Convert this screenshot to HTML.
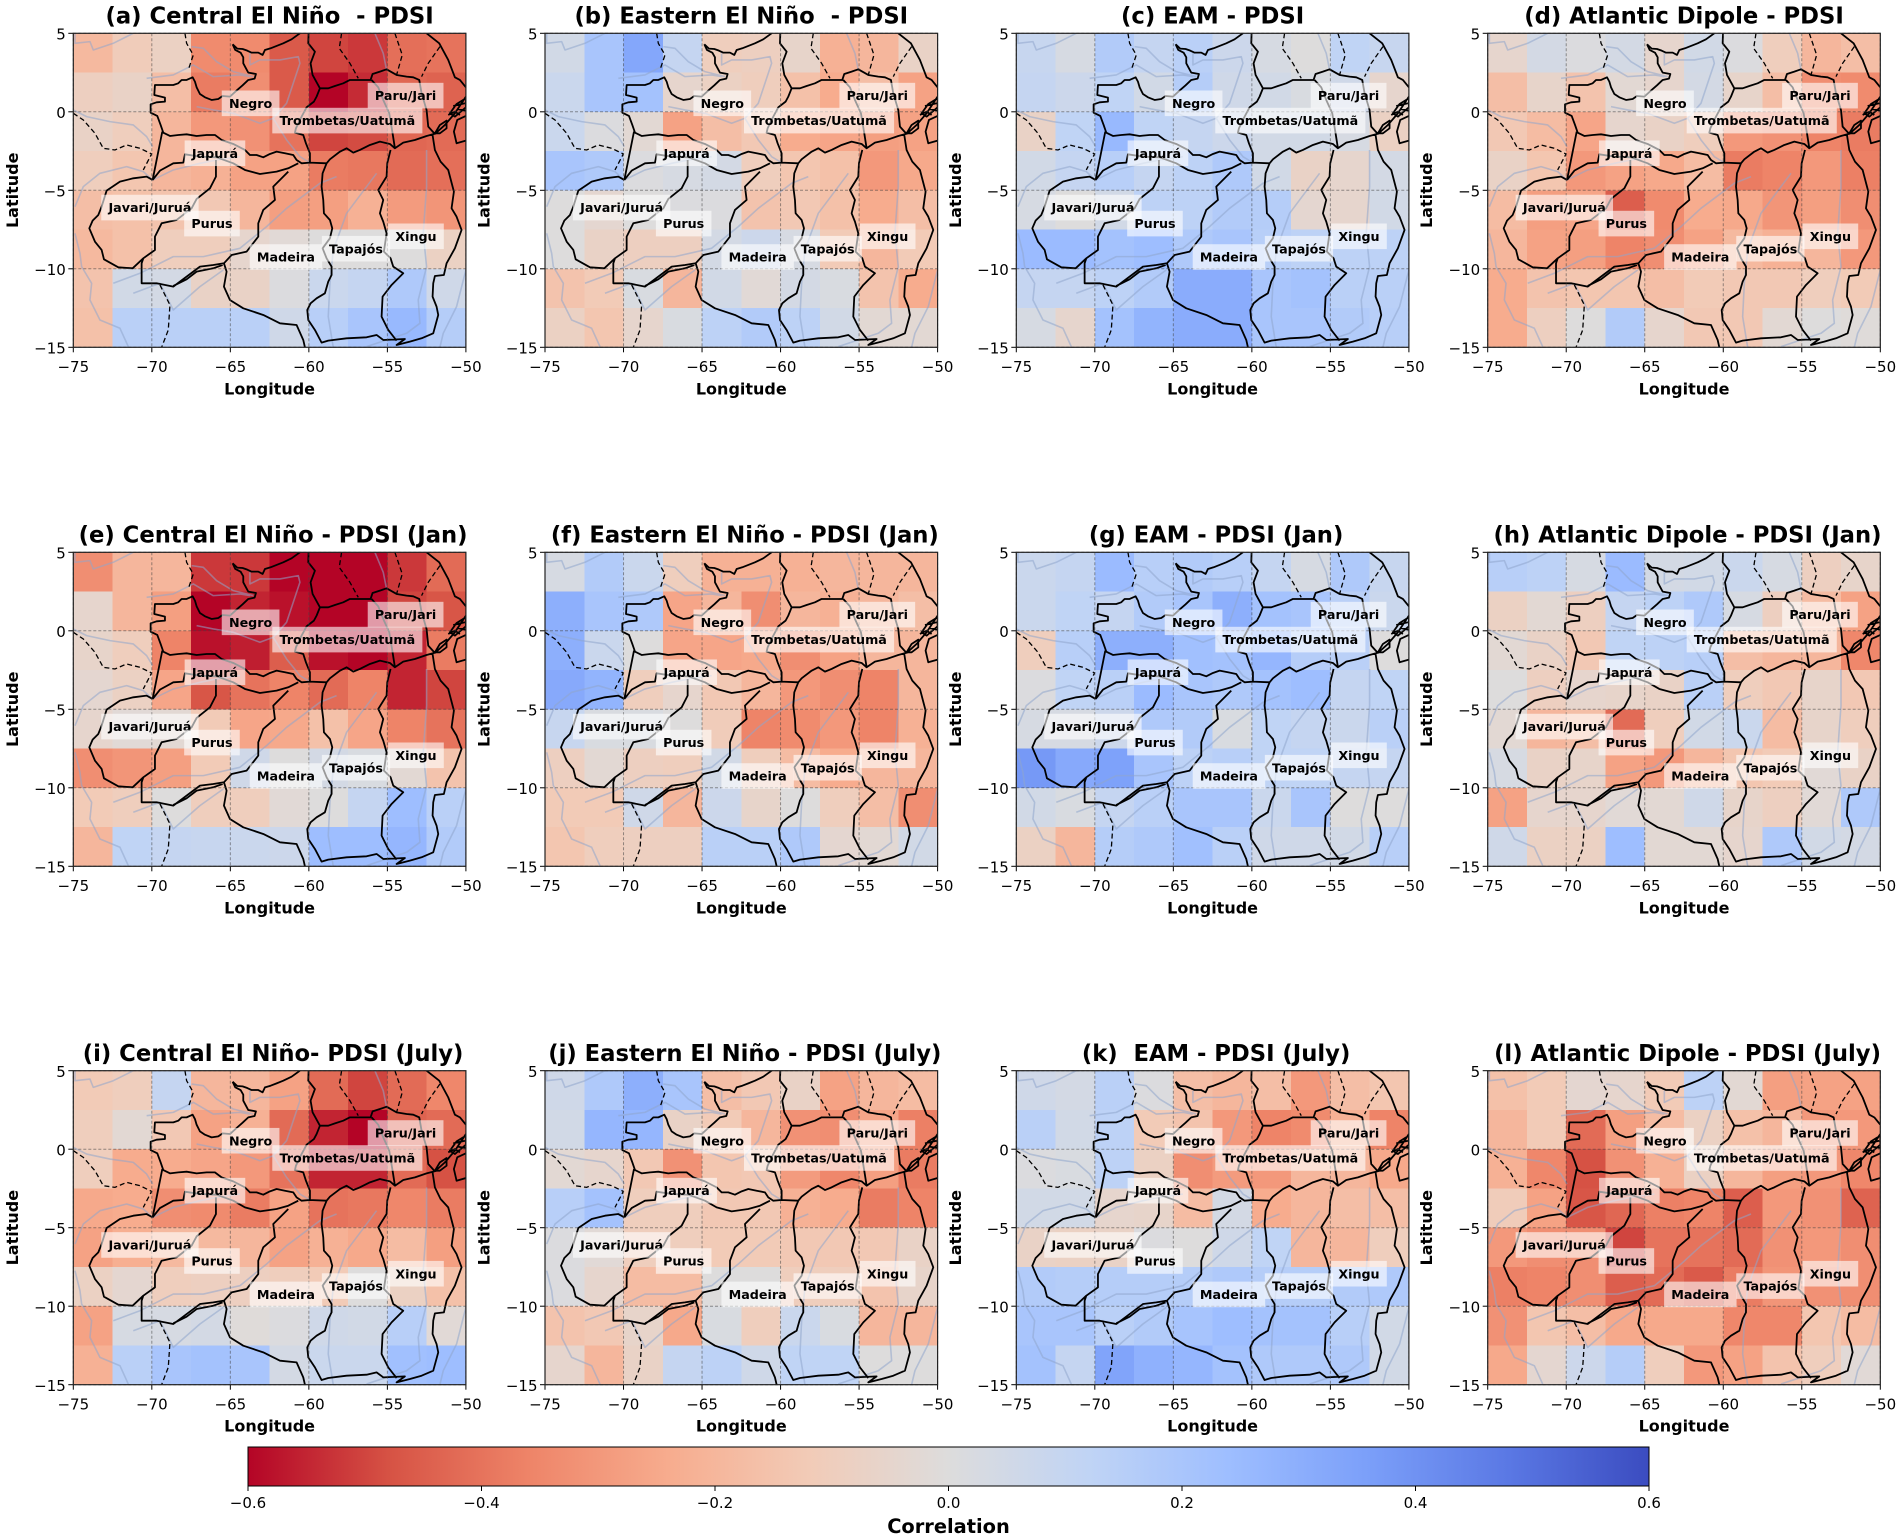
<!DOCTYPE html>
<html lang="en">
<head>
<meta charset="utf-8">
<title>PDSI correlation maps</title>
<style>
html,body{margin:0;padding:0;background:#fff;}
svg{display:block;}
text{font-family:"DejaVu Sans","Liberation Sans",sans-serif;fill:#000;white-space:pre;}
</style>
</head>
<body>
<svg id="figure" xmlns="http://www.w3.org/2000/svg" width="1902" height="1539" viewBox="0 0 1902 1539"></svg>
<script>
// Correlation grids: 8 latitude rows (5 to -15) by 10 longitude columns (-75 to -50)
const centralElNino = [
[-.19,-.11,-.08,-.34,-.34,-.46,-.50,-.52,-.41,-.40],
[-.09,-.07,-.17,-.38,-.33,-.46,-.60,-.54,-.43,-.44],
[-.07,-.10,-.20,-.30,-.32,-.40,-.50,-.49,-.43,-.42],
[-.10,-.14,-.20,-.22,-.27,-.27,-.38,-.39,-.42,-.41],
[-.17,-.16,-.15,-.13,-.20,-.28,-.28,-.22,-.29,-.31],
[-.19,-.16,-.10,-.10,-.05,-.02,0,0,0,-.08],
[-.15,.05,.04,-.07,-.07,.01,.08,.10,.18,.06],
[-.16,.14,.14,.14,.14,.06,.15,.20,.26,.16]];
const easternElNino = [
[.05,.20,.33,.10,-.10,-.09,-.06,-.22,-.20,-.07],
[.08,.20,.22,-.05,-.08,-.10,-.16,-.24,-.17,-.27],
[.08,.01,-.03,-.27,-.17,-.13,-.24,-.26,-.28,-.27],
[.20,.18,.01,.03,.04,-.10,-.14,-.16,-.30,-.25],
[0,-.04,0,.01,.01,-.15,-.13,-.16,-.24,-.17],
[0,-.07,-.09,-.09,.04,.07,.03,-.12,-.20,-.12],
[-.15,-.12,.02,-.20,.05,-.02,.04,.02,-.15,-.24],
[-.08,-.14,-.05,.02,.13,.17,.13,.05,-.03,-.03]];
const eam = [
[.09,.03,.17,.10,.14,.07,.03,0,.12,.09],
[.10,.07,.12,.05,.16,.06,.05,.02,.06,-.05],
[-.07,.12,.26,.12,.10,.07,.05,.05,.03,-.08],
[.05,.10,.15,.10,.13,.18,.05,-.07,-.05,.04],
[.03,0,.05,.13,.13,.17,.16,-.04,-.05,.05],
[.25,.25,.22,.24,.18,.20,.15,.13,.13,.13],
[.10,.10,.13,.17,.31,.31,.20,.22,.14,.14],
[.03,-.05,.22,.28,.31,.31,.20,.20,.17,.15]];
const atlanticDipole = [
[-.05,.04,.01,.04,-.05,.05,.01,-.10,-.20,-.17],
[-.17,-.06,-.15,-.03,-.05,.04,-.06,-.17,-.33,-.34],
[-.13,-.18,-.26,-.05,-.07,-.10,-.30,-.32,-.36,-.38],
[-.07,-.14,-.30,-.27,-.25,-.18,-.38,-.36,-.30,-.37],
[-.18,-.28,-.26,-.45,-.34,-.24,-.25,-.31,-.28,-.33],
[-.20,-.27,-.28,-.36,-.33,-.27,-.19,-.22,-.20,-.30],
[-.24,-.15,-.14,-.14,-.17,-.12,-.13,-.13,-.10,-.12],
[-.24,-.09,0,.17,-.05,-.13,-.13,-.03,0,-.01]];
const centralElNinoJan = [
[-.33,-.20,-.20,-.52,-.52,-.60,-.60,-.60,-.52,-.42],
[-.05,-.20,-.28,-.60,-.55,-.58,-.60,-.60,-.50,-.47],
[-.06,-.10,-.36,-.58,-.56,-.45,-.58,-.60,-.55,-.38],
[-.04,-.08,-.26,-.47,-.40,-.36,-.42,-.36,-.55,-.50],
[-.05,-.02,-.03,-.12,-.26,-.25,-.16,-.26,-.36,-.40],
[-.33,-.31,-.28,-.12,.06,0,.04,.02,-.03,-.15],
[-.12,-.10,0,-.10,-.10,-.02,0,.10,.24,.14],
[-.20,.12,.10,.09,.08,.07,.24,.24,.27,.17]];
const easternElNinoJan = [
[.03,.17,.08,-.10,-.22,-.22,-.22,-.20,-.20,-.20],
[.30,.20,.18,-.26,-.20,-.33,-.20,-.22,-.20,-.17],
[.30,.08,0,-.26,-.26,-.25,-.33,-.27,-.20,-.20],
[.32,.28,-.10,-.05,-.13,-.20,-.30,-.33,-.36,-.20],
[.09,.02,.02,0,-.11,-.36,-.34,-.30,-.36,-.22],
[-.09,-.03,-.09,-.10,.05,-.10,-.18,-.24,-.20,-.20],
[-.12,-.12,.06,-.20,.07,-.06,0,-.10,-.17,-.33],
[-.14,-.10,-.09,-.09,.14,.14,.18,-.04,-.03,.05]];
const eamJan = [
[.08,.10,.25,.15,.17,.15,.10,.03,.18,.09],
[.08,.12,.10,.17,.20,.30,.22,.20,.14,.08],
[-.10,.15,.30,.30,.23,.22,.27,.16,.14,0],
[.01,.12,.14,.25,.20,.18,.22,.24,.10,.12],
[.03,.03,.07,.18,.17,.02,.12,.10,.08,.14],
[.38,.32,.35,.20,.13,.15,.12,.12,.10,.10],
[.05,.02,.10,.14,.20,.20,.08,.20,0,0],
[-.08,-.20,.16,.18,.23,.14,.06,.06,.05,.15]];
const atlanticDipoleJan = [
[.15,.13,.03,.25,.04,.05,.08,.03,-.09,-.06],
[-.08,-.03,-.09,.10,.13,.18,.03,-.09,-.18,-.27],
[-.03,-.07,-.13,.12,.13,.15,-.17,-.20,-.20,-.35],
[0,-.09,-.05,-.06,-.07,.14,-.10,-.13,-.06,-.13],
[-.03,-.20,-.17,-.42,-.10,.05,.08,-.18,-.06,-.10],
[.03,-.07,-.06,-.27,-.30,-.20,-.14,-.12,-.02,-.07],
[-.27,-.05,-.05,-.02,-.03,.06,-.06,-.09,-.02,.18],
[.06,-.08,-.08,.24,-.03,-.03,-.05,.18,.05,.04]];
const centralElNinoJuly = [
[-.12,-.10,.10,-.20,-.20,-.27,-.42,-.50,-.42,-.35],
[-.10,-.03,-.13,-.27,-.22,-.42,-.55,-.60,-.44,-.42],
[-.10,-.24,-.24,-.26,-.30,-.40,-.55,-.55,-.42,-.48],
[-.25,-.24,-.33,-.34,-.38,-.27,-.40,-.39,-.35,-.38],
[-.27,-.23,-.19,-.19,-.20,-.27,-.22,-.25,-.18,-.28],
[-.08,-.04,-.10,-.09,-.09,-.10,-.12,0,-.08,-.16],
[-.27,.03,.03,.04,-.01,.01,.06,.05,.15,-.02],
[-.22,.14,.20,.22,.20,.04,.08,.08,.23,.24]];
const easternElNinoJuly = [
[.06,.18,.30,.20,-.17,-.13,-.07,-.27,-.20,-.18],
[.05,.27,.27,-.07,-.12,-.20,-.32,-.33,-.26,-.37],
[-.03,-.05,-.13,-.32,-.14,-.13,-.29,-.35,-.28,-.38],
[.15,.22,-.10,-.10,-.13,-.13,-.22,-.24,-.38,-.36],
[.01,-.02,-.10,-.10,-.12,-.12,-.13,-.13,-.13,-.07],
[.01,-.05,-.18,-.18,0,0,-.10,-.10,-.15,-.06],
[-.15,-.13,-.06,-.25,.02,-.10,.08,.02,-.20,-.20],
[-.05,-.20,-.07,.10,.13,.06,.12,.12,0,0]];
const eamJuly = [
[.06,.04,.14,.01,-.17,-.20,-.17,-.30,-.17,-.14],
[.14,.05,.13,-.12,-.15,-.30,-.36,-.34,-.22,-.36],
[.01,.02,.13,-.08,-.33,-.29,-.30,-.20,-.20,-.25],
[.05,.05,-.05,-.06,-.18,.04,-.24,-.20,-.17,-.17],
[-.07,-.08,-.07,.01,0,.06,.12,-.20,-.20,-.10],
[.17,.16,.16,.16,.16,.18,.16,.16,.17,.18],
[.20,.20,.14,.17,.21,.24,.22,.22,.15,.05],
[.22,.10,.34,.29,.27,.22,.18,.18,.18,.05]];
const atlanticDipoleJuly = [
[-.16,-.12,-.04,-.05,-.12,.13,-.03,-.28,-.27,-.27],
[-.20,-.12,-.42,-.28,-.18,-.08,-.16,-.20,-.30,-.30],
[-.22,-.35,-.48,-.32,-.22,-.08,-.20,-.28,-.30,-.35],
[-.11,-.27,-.47,-.43,-.37,-.36,-.45,-.30,-.32,-.44],
[-.30,-.33,-.33,-.50,-.40,-.40,-.42,-.32,-.30,-.33],
[-.37,-.36,-.33,-.45,-.42,-.46,-.38,-.31,-.32,-.33],
[-.32,-.14,-.17,-.25,-.25,-.25,-.35,-.35,-.14,-.18],
[-.25,-.04,.07,.16,-.10,-.30,-.27,-.15,-.10,-.02]];

const panelTitles = ["(a) Central El Niño  - PDSI","(b) Eastern El Niño  - PDSI","(c) EAM - PDSI","(d) Atlantic Dipole - PDSI",
"(e) Central El Niño - PDSI (Jan)","(f) Eastern El Niño - PDSI (Jan)","(g) EAM - PDSI (Jan)","(h) Atlantic Dipole - PDSI (Jan)",
"(i) Central El Niño- PDSI (July)","(j) Eastern El Niño - PDSI (July)","(k)  EAM - PDSI (July)","(l) Atlantic Dipole - PDSI (July)"];
const panelGrids = [centralElNino,easternElNino,eam,atlanticDipole,centralElNinoJan,easternElNinoJan,eamJan,atlanticDipoleJan,centralElNinoJuly,easternElNinoJuly,eamJuly,atlanticDipoleJuly];
const lonTicks = [-75,-70,-65,-60,-55,-50];
const latTicks = [-15,-10,-5,0,5];
const colorbarTicks = [-0.6,-0.4,-0.2,0,0.2,0.4,0.6];
const basinNames = ["Negro","Trombetas/Uatumã","Paru/Jari","Japurá","Javari/Juruá","Purus","Madeira","Tapajós","Xingu"];
const basinLons = [-63.71,-57.55,-53.84,-65.98,-70.12,-66.17,-61.46,-57.0,-53.18];
const basinLats = [0.54,-0.56,1.03,-2.64,-6.1,-7.12,-9.25,-8.72,-7.93];

// coolwarm_r anchors, from -0.6 to 0.6
const cmapHex = ["#b40426","#d65244","#ee8468","#f7ac8e","#f2cbb7","#dddcdc","#c0d4f5","#9ebeff","#7b9ff9","#5a78e4","#3b4cc0"];

// Basemap geography, traced on a 3x grid where the map frame spans 220..1398 by 100..1042
const basinOutlines = "M698,133L712,146L728,147L742,152L755,158L775,158L788,165L795,150L812,145L830,138L850,130L875,118L900,100M698,133L706,150L722,158L730,172L730,190L738,205L745,218L768,222L764,236L745,240L728,256L712,270L690,290L668,288L655,297L635,300L615,292L600,282L590,262L585,245L578,232L560,240L545,240L535,250L520,255L500,255L465,255L463,285L495,293L495,305L470,307L452,313L452,338L472,348L482,375L490,398L510,408L535,405L560,403L590,408L620,405L645,405L665,420L700,432L735,450L750,465L770,465L790,472L810,462L830,455L855,460L880,465L890,480L905,490L930,488"
+"M926,100L925,130L945,155L932,190L938,225L960,265L950,290L942,305L920,322L905,350L888,385L885,398L910,405L918,430L930,460L930,488"
+"M960,265L985,265L1005,258L1030,250L1050,240L1090,240L1112,240L1118,222L1140,215L1160,208L1190,225L1220,230L1240,232L1258,240L1265,280L1280,330L1285,380L1305,402"
+"M1115,240L1135,262L1150,300L1168,340L1178,400L1185,445"
+"M930,488L980,490L990,478L1020,455L1040,445L1060,458L1080,450L1110,435L1140,425L1170,432L1185,445L1210,428L1245,420L1280,408L1310,400"
+"M980,490L968,520L965,560L970,600L972,640L990,660L997,685L990,715L968,745L980,775L995,800L995,825L985,845L975,880L950,895L932,910L922,930L925,960L945,990L965,1028L985,1022L1040,1015L1100,1012L1130,1005L1150,1020L1215,1017L1190,1035L1230,1025L1265,1015L1300,1000L1315,945L1310,920L1298,890L1300,850L1305,828L1332,825L1340,790L1365,745L1385,690L1370,650L1355,625L1362,575L1345,510L1322,485L1305,450L1298,405"
+"M1172,450L1162,490L1160,530L1135,570L1150,600L1140,640L1150,665L1160,700L1152,755L1172,775L1180,800L1210,820L1175,855L1148,890L1145,950L1165,990L1190,1022"
+"M458,540L440,530L400,535L360,545L320,572L305,620L295,645L278,662L268,685L285,725L305,750L312,778L355,802L398,805L430,775L465,750L465,710L485,670L530,660L575,625L590,597L630,565L648,530L648,480"
+"M458,540L480,512L520,490L550,488L555,463L600,470L650,472L700,490L735,510L780,522L830,515L865,505L895,490"
+"M487,395L458,540"
+"M430,775L425,790L425,850L470,850L520,860L560,830L600,800L640,795L672,790L695,765L740,755L775,710L775,670L790,630L825,600L820,560L865,515"
+"M520,858L560,838L590,815L640,805L668,795"
+"M672,790L680,815L672,860L690,900L730,925L790,945L840,970L890,975L910,1020L915,1042"
+"M1280,100L1318,130L1345,180L1365,232L1380,240L1398,262"
+"M1305,402L1335,375L1365,340L1398,290M1398,422L1370,430L1362,395L1372,360L1398,348M1398,295L1370,312L1350,340L1365,350L1398,322ZM1345,345L1365,335L1380,345M1360,318L1395,310M1375,328L1398,332M1305,400L1320,375L1340,362L1340,385L1320,400Z";
const countryBorders = "M220,340L250,360L285,400L310,445L345,450L380,435L420,445L455,462L430,510M555,100L560,130L580,165L565,210M480,855L510,915L505,990L485,1042M1025,100L1018,145L1050,190L1075,235M1185,100L1207,165L1190,225M1320,140L1285,190L1265,230";
const riverTraces = "M225,100L225,130L270,125L280,150L340,130L400,100M220,330L260,350L330,365L400,375L440,410L458,440M225,620L250,560L300,520L380,500L430,515L458,540L520,510L600,490L650,480L720,470M440,235L520,225L580,195L640,230L720,225L750,230M575,140L610,145L650,185L700,215L760,230M750,160L750,195L780,180L840,180L895,170L900,190L880,250L860,310L820,355L780,370L700,340L640,330L590,320M820,355L860,420L900,470L930,488M225,700L240,760L245,800L275,850L270,900L300,960L360,985L385,1040M340,850L420,820L520,770L610,770L720,745L800,680L860,625L960,550L1010,530M400,880L480,850L520,930L600,860L670,810M1000,1042L985,950L990,850L1000,750L1040,640L1130,520M1280,450L1280,560L1270,700L1280,800L1255,900L1260,970L1220,1000L1100,1040M1398,810L1370,920L1330,1000L1320,1042M1125,100L1150,160L1160,210";

const axisLefts = [73.3,545,1016.3,1487.7];
const axisTops = [33.3,552.3,1070.7];
const axisWidth = 392.6;
const axisHeight = 314;
const svgNS = "http://www.w3.org/2000/svg";
const figure = document.getElementById("figure");

function make(tag, attrs, parent){
  const el = document.createElementNS(svgNS, tag);
  for (const k in attrs) el.setAttribute(k, attrs[k]);
  parent.appendChild(el);
  return el;
}
function hexToRgb(h){ return [1,3,5].map(i => parseInt(h.slice(i,i+2),16)); }
function colorFor(v){
  const t = Math.max(0, Math.min(1, (v + 0.6) / 1.2)) * (cmapHex.length - 1);
  const i = Math.min(cmapHex.length - 2, Math.floor(t));
  const f = t - i;
  const a = hexToRgb(cmapHex[i]), b = hexToRgb(cmapHex[i+1]);
  return "rgb(" + a.map((c,j) => Math.round(c + (b[j]-c)*f)).join(",") + ")";
}
function fmtTick(v, digits){
  const s = Math.abs(v).toFixed(digits);
  return (v < 0 ? "\u2212" : "") + s;
}

panelGrids.forEach((grid, p) => {
  const row = Math.floor(p / 4), col = p % 4;
  const left = axisLefts[col], top = axisTops[row];
  const xScale = lon => left + (lon + 75) / 25 * axisWidth;
  const yScale = lat => top + (5 - lat) / 20 * axisHeight;
  const letter = panelTitles[p].charAt(1);

  const panel = make("g", {}, figure);
  
  

  const heat = make("g", {"shape-rendering":"crispEdges"}, panel);
  
  
  grid.forEach((vals, r) => {
    vals.forEach((v, c) => {
      const lon0 = -75 + c * 2.5, lat0 = 5 - r * 2.5;
      const cell = make("rect", {
        x: xScale(lon0), y: yScale(lat0),
        width: xScale(lon0 + 2.5) - xScale(lon0),
        height: yScale(lat0 - 2.5) - yScale(lat0),
        fill: colorFor(v)
      }, heat);
      
      
    });
  });

  const base = make("svg", {x:left, y:top, width:axisWidth, height:axisHeight, viewBox:"220 100 1178 942", preserveAspectRatio:"none"}, panel);
  
  
  const rivers = make("path", {d:riverTraces, fill:"none", stroke:"#8fa6cc", "stroke-opacity":"0.55", "stroke-width":"1.6", "vector-effect":"non-scaling-stroke", "stroke-linejoin":"round"}, base);
  
  
  const borders = make("path", {d:countryBorders, fill:"none", stroke:"#000", "stroke-width":"1.3", "stroke-dasharray":"5,3", "vector-effect":"non-scaling-stroke"}, base);
  
  
  const basins = make("path", {d:basinOutlines, fill:"none", stroke:"#000", "stroke-width":"1.8", "vector-effect":"non-scaling-stroke", "stroke-linejoin":"round"}, base);
  
  

  // gridlines and ticks
  lonTicks.forEach(lon => {
    const x = xScale(lon);
    const gl = make("line", {x1:x, x2:x, y1:top, y2:top+axisHeight, stroke:"#444", "stroke-opacity":"0.55", "stroke-width":"1", "stroke-dasharray":"3,2"}, panel);
    
    
    const tk = make("line", {x1:x, x2:x, y1:top+axisHeight, y2:top+axisHeight+5, stroke:"#000", "stroke-width":"1"}, panel);
    
    
    const lb = make("text", {x:x, y:top+axisHeight+24.7, "text-anchor":"middle", "font-size":"15"}, panel);
    lb.textContent = fmtTick(lon, 0);
    
    
  });
  latTicks.forEach(lat => {
    const y = yScale(lat);
    const gl = make("line", {x1:left, x2:left+axisWidth, y1:y, y2:y, stroke:"#444", "stroke-opacity":"0.55", "stroke-width":"1", "stroke-dasharray":"3,2"}, panel);
    
    
    const tk = make("line", {x1:left-5, x2:left, y1:y, y2:y, stroke:"#000", "stroke-width":"1"}, panel);
    
    
    const lb = make("text", {x:left-7.5, y:y+6.2, "text-anchor":"end", "font-size":"15"}, panel);
    lb.textContent = fmtTick(lat, 0);
    
    
  });

  // basin labels
  basinNames.forEach((name, i) => {
    const cx = xScale(basinLons[i]), cy = yScale(basinLats[i]);
    const box = make("rect", {fill:"#fff", "fill-opacity":"0.6"}, panel);
    
    
    const t = make("text", {x:cx, y:cy+4.6, "text-anchor":"middle", "font-size":"12.7", "font-weight":"bold"}, panel);
    t.textContent = name;
    
    
    const w = t.getComputedTextLength() + 14.4;
    box.setAttribute("x", cx - w/2);
    box.setAttribute("y", cy - 12.8);
    box.setAttribute("width", w);
    box.setAttribute("height", 25.6);
  });

  const frame = make("rect", {x:left, y:top, width:axisWidth, height:axisHeight, fill:"none", stroke:"#222", "stroke-width":"1.2"}, panel);
  
  

  const titleShift = row === 0 ? 0 : 3.5;
  const title = make("text", {x:left+axisWidth/2+titleShift, y:top-9.6, "text-anchor":"middle", "font-size":"22.7", "font-weight":"bold"}, panel);
  title.textContent = panelTitles[p];
  
  

  const xl = make("text", {x:left+axisWidth/2, y:top+axisHeight+47, "text-anchor":"middle", "font-size":"16", "font-weight":"bold"}, panel);
  xl.textContent = "Longitude";
  
  

  const yx = left - 55.5, yy = top + axisHeight/2;
  const yl = make("text", {x:yx, y:yy, "text-anchor":"middle", "font-size":"16", "font-weight":"bold", transform:"rotate(-90 "+yx+" "+yy+")"}, panel);
  yl.textContent = "Latitude";
  
  
});

// colorbar
const cbLeft = 248, cbRight = 1649, cbTop = 1447, cbBottom = 1486;
const cbScale = v => cbLeft + (v + 0.6) / 1.2 * (cbRight - cbLeft);
const defs = make("defs", {}, figure);
const grad = make("linearGradient", {id:"cmapGradient", x1:"0", x2:"1", y1:"0", y2:"0"}, defs);
cmapHex.forEach((c, i) => {
  make("stop", {offset: i / (cmapHex.length - 1), "stop-color": c}, grad);
});
const cbGroup = make("g", {}, figure);


const cbBar = make("rect", {x:cbLeft, y:cbTop, width:cbRight-cbLeft, height:cbBottom-cbTop, fill:"url(#cmapGradient)", stroke:"#000", "stroke-width":"1"}, cbGroup);


colorbarTicks.forEach(v => {
  const x = cbScale(v);
  const tk = make("line", {x1:x, x2:x, y1:cbBottom, y2:cbBottom+5, stroke:"#000", "stroke-width":"1"}, cbGroup);
  
  
  const lb = make("text", {x:x, y:cbBottom+22, "text-anchor":"middle", "font-size":"15"}, cbGroup);
  lb.textContent = fmtTick(v, 1);
  
  
});
const cbTitle = make("text", {x:(cbLeft+cbRight)/2, y:1533, "text-anchor":"middle", "font-size":"19.4", "font-weight":"bold"}, cbGroup);
cbTitle.textContent = "Correlation";


</script>
</body>
</html>
